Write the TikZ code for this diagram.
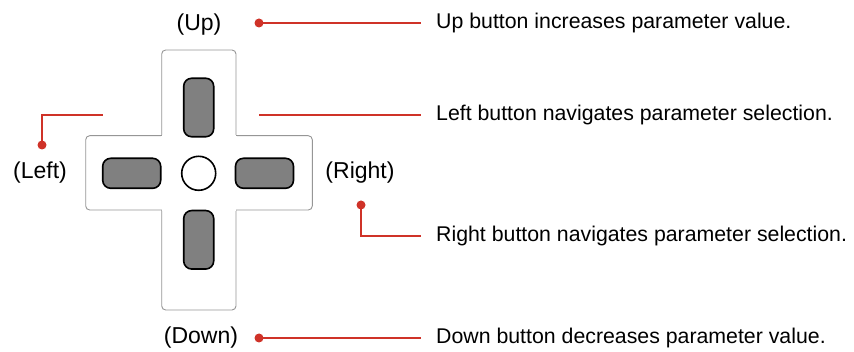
\documentclass[tikz,border=0pt]{standalone}
\usepackage{fontspec}
\setmainfont{Liberation Sans}
\definecolor{leadred}{RGB}{207,50,40}
\definecolor{btngray}{RGB}{128,128,128}
\definecolor{padline}{RGB}{150,150,150}
\begin{document}
\begin{tikzpicture}[x=1pt,y=-1pt,
  lbl/.style={inner sep=0pt,font=\fontsize{23}{27}\selectfont},
  desc/.style={inner sep=0pt,font=\fontsize{21.3}{25}\selectfont,anchor=west},
  vbtn/.style={draw=black,line width=1.6pt,fill=btngray,rounded corners=8pt,minimum width=30pt,minimum height=58.5pt,inner sep=0pt},
  hbtn/.style={draw=black,line width=1.6pt,fill=btngray,rounded corners=8pt,minimum width=58pt,minimum height=30pt,inner sep=0pt},
  padarm/.style={draw=padline,line width=0.9pt,fill=white,rounded corners=4pt},
  lead/.style={draw=leadred,line width=1.8pt},
  dotc/.style={fill=leadred,circle,inner sep=0pt,minimum size=9pt}]
\useasboundingbox (0,0) rectangle (854,352);
% pad outline
\draw[padarm] (161.7,50) rectangle (236,310);
\draw[padarm] (85.7,135.7) rectangle (312.3,210);
\fill[white] (162.2,134.9) rectangle (235.5,210.8);
\fill[white] (160.9,136.2) rectangle (236.8,209.5);
% buttons
\node[vbtn] (bup) at (198.7,107.5) {};
\node[vbtn] (bdown) at (198.7,239.8) {};
\node[hbtn] (bleft) at (131.7,173.3) {};
\node[hbtn] (bright) at (264.5,173.3) {};
\node[draw=black,line width=1.6pt,fill=white,circle,minimum size=34pt,inner sep=0pt] (bc) at (198.7,173.3) {};
% labels
\node[lbl] (lup) at (199,25) {(Up)};
\node[lbl] (ldown) at (201,338) {(Down)};
\node[lbl] (lleft) at (40,173) {(Left)};
\node[lbl] (lright) at (360,173) {(Right)};
% descriptions
\node[desc] (dup) at (436,23) {Up button increases parameter value.};
\node[desc] (dleft) at (436,115) {Left button navigates parameter selection.};
\node[desc] (dright) at (436,236) {Right button navigates parameter selection.};
\node[desc] (ddown) at (436,338) {Down button decreases parameter value.};
% leader points
\node[dotc] (pup) at (259,23) {};
\node[dotc] (pdown) at (259,338) {};
\node[dotc] (pleft) at (42,145) {};
\node[dotc] (pright) at (361,205) {};
\coordinate (lstart) at (259,115);
\coordinate (lend) at (103,115);
% connectors
\draw[lead,shorten >=15pt] (pup.center) -- (dup.west);
\draw[lead,shorten >=15pt] (pdown.center) -- (ddown.west);
\draw[lead,shorten >=15pt] (lstart) -- (dleft.west);
\draw[lead] (pleft.center) |- (lend);
\draw[lead,shorten >=15pt] (pright.center) |- (dright.west);
\end{tikzpicture}
\end{document}
